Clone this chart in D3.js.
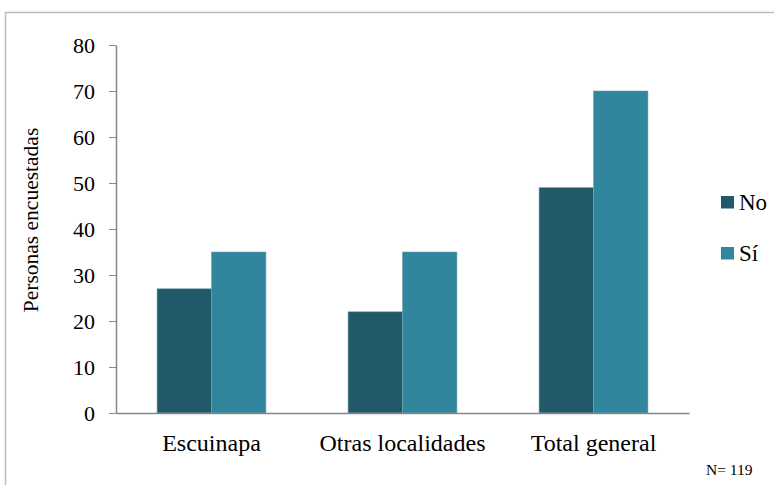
<!DOCTYPE html>
<html><head><meta charset="utf-8">
<script src="https://cdn.jsdelivr.net/npm/d3@7"></script>
<style>body{margin:0;background:#fff}svg{display:block}</style>
</head><body><svg id="c" width="774" height="485"></svg>
<script>
const categories = ["Escuinapa", "Otras localidades", "Total general"];
const seriesNames = ["No", "Sí"];
const noValues = [27, 22, 49];
const siValues = [35, 35, 70];
const yTicks = [0, 10, 20, 30, 40, 50, 60, 70, 80];
const colors = ["#215968", "#31859C"];

const svg = d3.select("#c");
const font = "'Liberation Serif','Times New Roman',serif";

svg.append("path").attr("d","M5.5,485 V12.5 H774").attr("fill","none").attr("stroke","#bcbcbc").attr("stroke-width",1.5);

const x0 = d3.scaleBand().domain(categories).range([116, 689]).paddingInner(0.43).paddingOuter(0.215);
const x1 = d3.scaleBand().domain(seriesNames).range([0, x0.bandwidth()]);
const y = d3.scaleLinear().domain([0, 80]).range([413, 45]);

const data = categories.map((c,i)=>({cat:c, vals:[noValues[i], siValues[i]]}));
const g = svg.append("g");
data.forEach(d=>{
  d.vals.forEach((v,j)=>{
    g.append("rect").attr("x", x0(d.cat)+x1(seriesNames[j])).attr("y", y(v))
      .attr("width", x1.bandwidth()).attr("height", y(0)-y(v))
      .attr("fill", colors[j]).attr("stroke","#6fa3b3").attr("stroke-width",0.6);
  });
});

const ya = svg.append("g").attr("transform","translate(116,0)")
  .call(d3.axisLeft(y).tickValues(yTicks).tickSize(7).tickPadding(14).tickSizeOuter(0));
ya.select(".domain").attr("stroke","#868686").attr("stroke-width",1.5);
ya.selectAll(".tick line").attr("stroke","#868686");
ya.selectAll("text").attr("font-family",font).attr("font-size",22).attr("fill","#000").attr("dy","0.36em");

const xa = svg.append("g").attr("transform","translate(0,413)")
  .call(d3.axisBottom(x0).tickSize(0).tickPadding(21).tickSizeOuter(0));
xa.select(".domain").attr("stroke","#868686").attr("stroke-width",1.5);
xa.selectAll("text").attr("font-family",font).attr("font-size",24).attr("fill","#000");

svg.append("text").attr("transform","translate(38,220) rotate(-90)").attr("text-anchor","middle")
  .attr("font-family",font).attr("font-size",21.5).text("Personas encuestadas");

const leg = svg.append("g");
seriesNames.forEach((s,i)=>{
  const yy = 202 + i*51;
  leg.append("rect").attr("x",721).attr("y",yy-6).attr("width",13).attr("height",12.5).attr("fill",colors[i]);
  leg.append("text").attr("x",739).attr("y",yy+8).attr("font-family",font).attr("font-size",23).text(s);
});

svg.append("text").attr("x",706).attr("y",475).attr("font-family",font).attr("font-size",15.5).text("N= 119");
</script></body></html>
